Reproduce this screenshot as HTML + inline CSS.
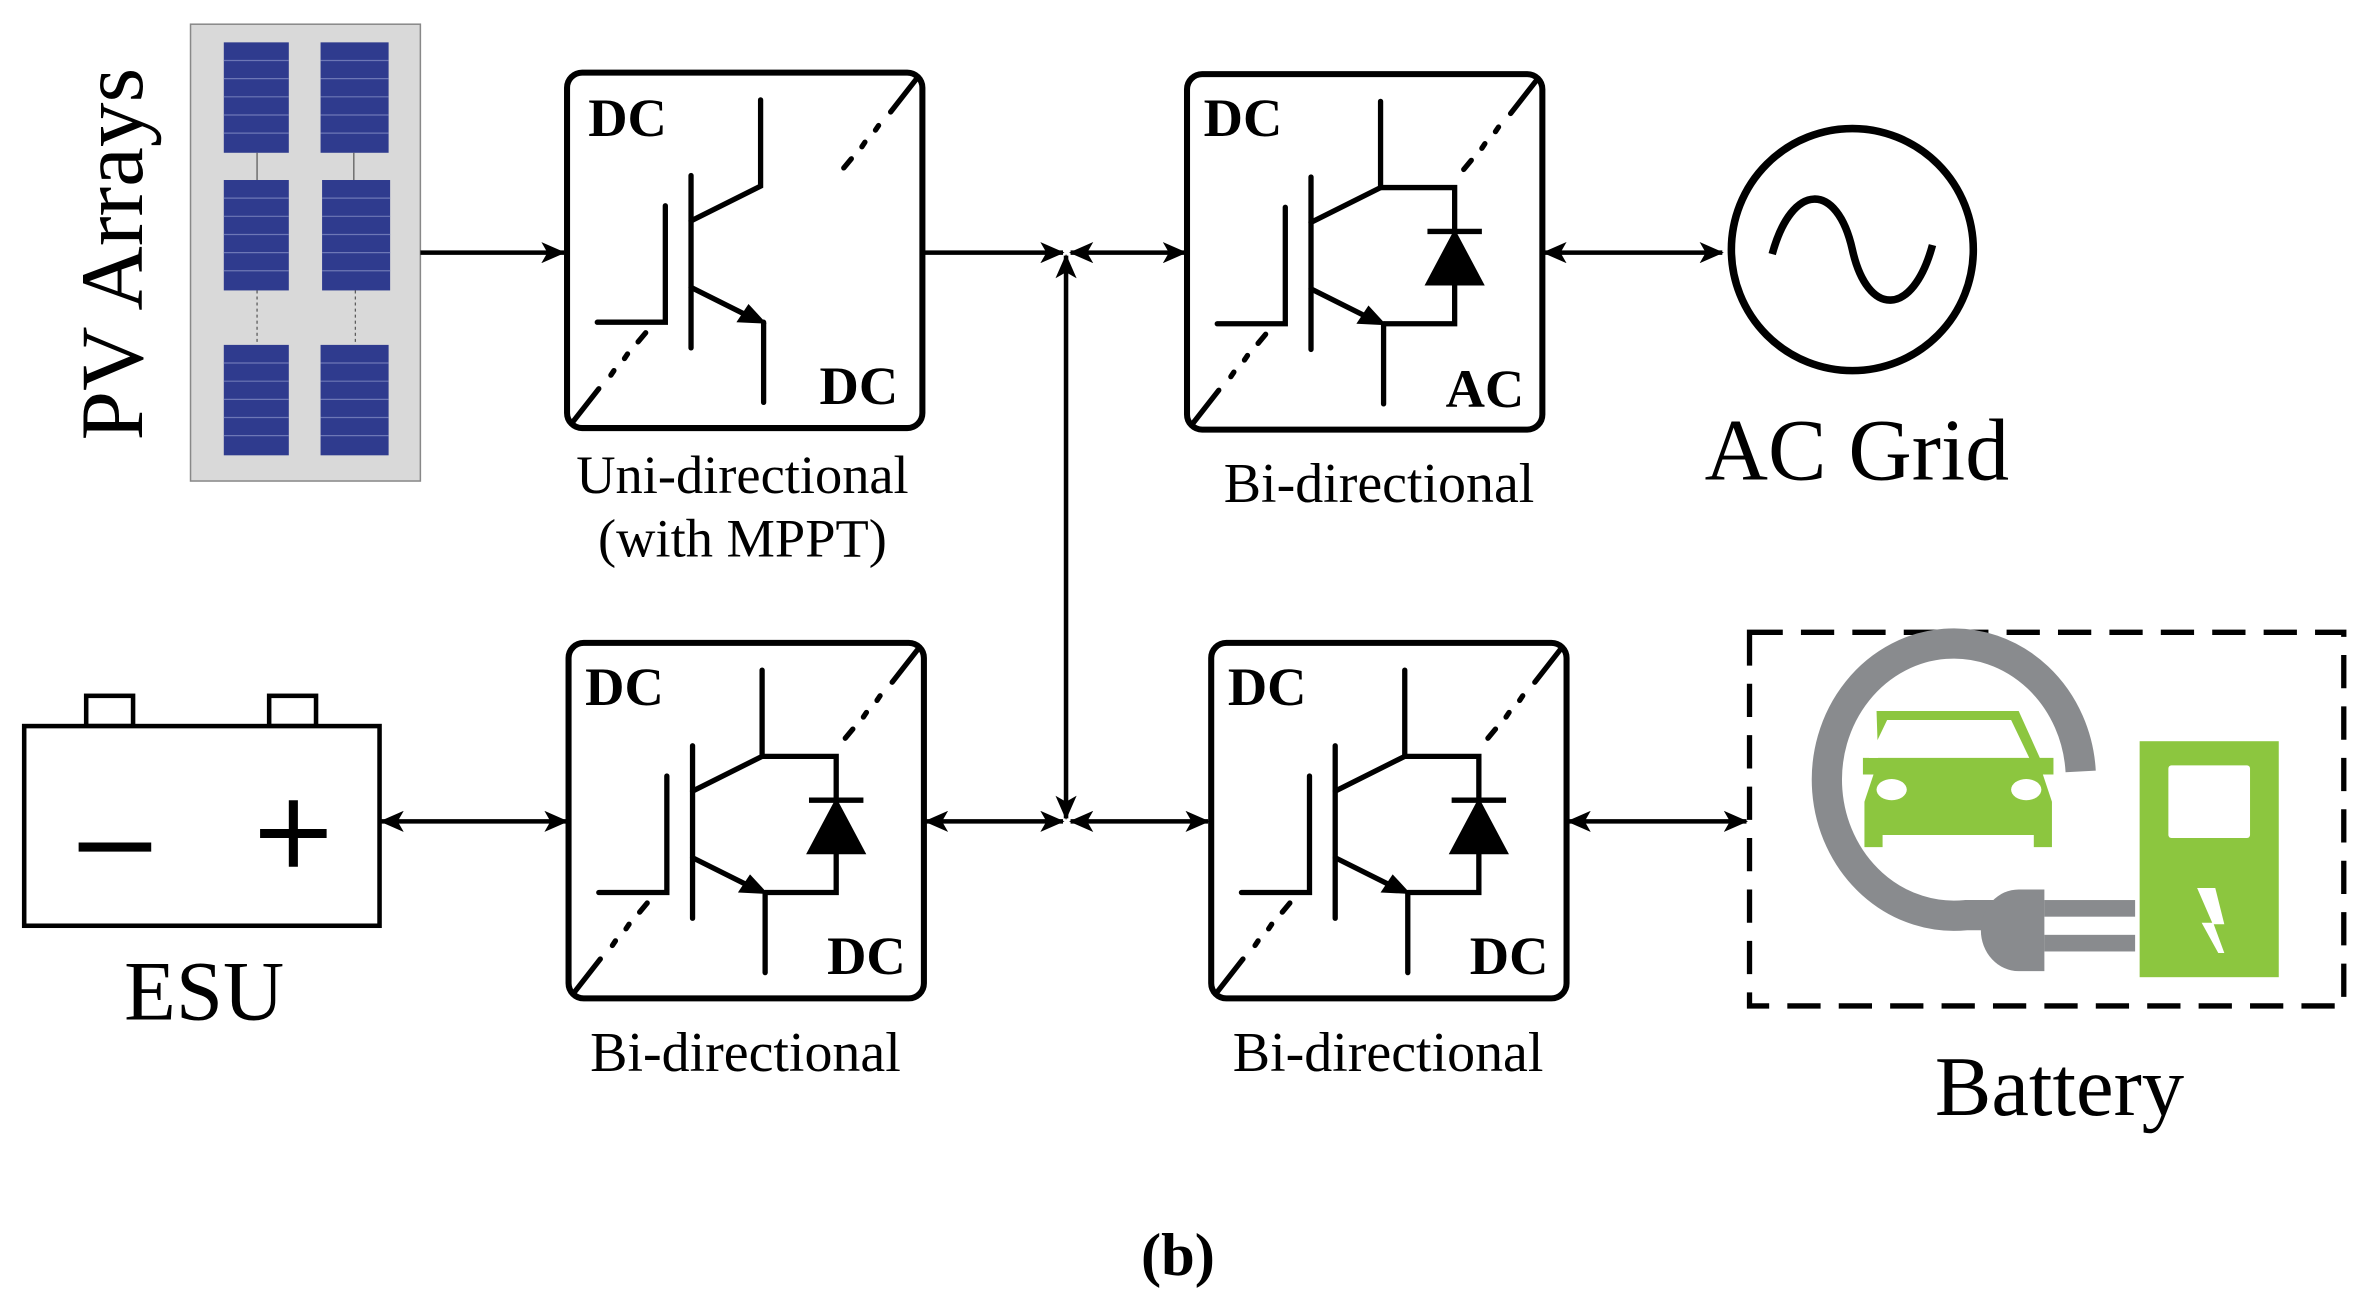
<!DOCTYPE html>
<html><head><meta charset="utf-8"><style>
html,body{margin:0;padding:0;background:#fff}
svg{display:block}
text{font-family:"Liberation Serif",serif}
</style></head><body>
<svg width="2371" height="1313" viewBox="0 0 1568 868" preserveAspectRatio="none" xmlns="http://www.w3.org/2000/svg">
<defs>
<marker id="ah2" markerWidth="16" markerHeight="14" refX="15" refY="7" orient="auto-start-reverse" markerUnits="userSpaceOnUse" viewBox="0 0 16 14">
<path d="M0,0 L16,7 L0,14 L4,7 Z" fill="#000"/></marker>
<g id="frame">
<rect x="0" y="0" width="235" height="235" rx="10" fill="#fff" stroke="#000" stroke-width="4"/>
<line x1="3" y1="232" x2="21" y2="209" stroke="#000" stroke-width="3.5" stroke-linecap="round"/>
<line x1="29" y1="200" x2="31" y2="197" stroke="#000" stroke-width="3.5" stroke-linecap="round"/>
<line x1="38" y1="189" x2="40" y2="186" stroke="#000" stroke-width="3.5" stroke-linecap="round"/>
<line x1="47" y1="178" x2="52" y2="172" stroke="#000" stroke-width="3.5" stroke-linecap="round"/>
<line x1="232" y1="3" x2="214" y2="26" stroke="#000" stroke-width="3.5" stroke-linecap="round"/>
<line x1="206" y1="35" x2="204" y2="38" stroke="#000" stroke-width="3.5" stroke-linecap="round"/>
<line x1="197" y1="46" x2="195" y2="49" stroke="#000" stroke-width="3.5" stroke-linecap="round"/>
<line x1="188" y1="57" x2="183" y2="63" stroke="#000" stroke-width="3.5" stroke-linecap="round"/>
<g stroke="#000" stroke-width="3.5" fill="none" stroke-linecap="round">
<polyline points="20,165 65,165 65,88"/>
<line x1="82" y1="68" x2="82" y2="182"/>
<polyline points="82,98 128,75 128,18"/>
<line x1="82" y1="142" x2="120" y2="161"/>
<line x1="130" y1="165" x2="130" y2="218"/>
</g>
<path d="M132,166 L112,165 L120,153 Z" fill="#000"/>
</g>
<g id="diode" stroke="#000" stroke-width="3.5" fill="none">
<polyline points="128,75 177,75 177,105"/>
<polyline points="177,138 177,165 130,165"/>
<line x1="159" y1="104" x2="195" y2="104"/>
<path d="M177,106 L194,138 L160,138 Z" fill="#000"/>
</g>
</defs>

<!-- PV Arrays -->
<text transform="translate(94,168) rotate(-90)" font-size="59" text-anchor="middle">PV Arrays</text>
<rect x="126" y="16" width="152" height="302" fill="#d9d9d9" stroke="#888" stroke-width="1"/>
<g fill="#2f3b8e">
<rect x="148" y="28" width="43" height="73"/><rect x="212" y="28" width="45" height="73"/>
<rect x="148" y="119" width="43" height="73"/><rect x="213" y="119" width="45" height="73"/>
<rect x="148" y="228" width="43" height="73"/><rect x="212" y="228" width="45" height="73"/>
</g>
<g stroke="#7d86c0" stroke-width="0.8" opacity="0.8">
<path d="M148,40H191M148,52H191M148,64H191M148,76H191M148,88H191M212,40H257M212,52H257M212,64H257M212,76H257M212,88H257"/>
<path d="M148,131H191M148,143H191M148,155H191M148,167H191M148,179H191M213,131H258M213,143H258M213,155H258M213,167H258M213,179H258"/>
<path d="M148,240H191M148,252H191M148,264H191M148,276H191M148,288H191M212,240H257M212,252H257M212,264H257M212,276H257M212,288H257"/>
</g>
<g stroke="#555" stroke-width="0.8">
<line x1="170" y1="101" x2="170" y2="119"/><line x1="234" y1="101" x2="234" y2="119"/>
<line x1="170" y1="192" x2="170" y2="228" stroke-dasharray="2 2"/><line x1="235" y1="192" x2="235" y2="228" stroke-dasharray="2 2"/>
</g>

<!-- connectors -->
<g stroke="#000" stroke-width="3" fill="none">
<line x1="278" y1="167" x2="373" y2="167" marker-end="url(#ah2)"/>
<line x1="609" y1="167" x2="703" y2="167" marker-end="url(#ah2)"/>
<line x1="708" y1="167" x2="784" y2="167" marker-start="url(#ah2)" marker-end="url(#ah2)"/>
<line x1="705" y1="169" x2="705" y2="541" marker-start="url(#ah2)" marker-end="url(#ah2)"/>
<line x1="1021" y1="167" x2="1139" y2="167" marker-start="url(#ah2)" marker-end="url(#ah2)"/>
<line x1="252" y1="543" x2="375" y2="543" marker-start="url(#ah2)" marker-end="url(#ah2)"/>
<line x1="612" y1="543" x2="703" y2="543" marker-start="url(#ah2)" marker-end="url(#ah2)"/>
<line x1="708" y1="543" x2="799" y2="543" marker-start="url(#ah2)" marker-end="url(#ah2)"/>
<line x1="1037" y1="543" x2="1155" y2="543" marker-start="url(#ah2)" marker-end="url(#ah2)"/>
</g>

<!-- converters -->
<g transform="translate(375,48)"><use href="#frame"/>
<text x="14" y="42" font-size="36" font-weight="bold">DC</text>
<text x="167" y="219" font-size="36" font-weight="bold">DC</text></g>
<text x="491" y="326" font-size="36" text-anchor="middle">Uni-directional</text>
<text x="491" y="368" font-size="36" text-anchor="middle">(with MPPT)</text>

<g transform="translate(785,49)"><use href="#frame"/><use href="#diode"/>
<text x="11" y="41" font-size="36" font-weight="bold">DC</text>
<text x="171" y="220" font-size="36" font-weight="bold">AC</text></g>
<text x="912" y="332" font-size="37" text-anchor="middle">Bi-directional</text>

<g transform="translate(376,425)"><use href="#frame"/><use href="#diode"/>
<text x="11" y="41" font-size="36" font-weight="bold">DC</text>
<text x="171" y="219" font-size="36" font-weight="bold">DC</text></g>
<text x="493" y="708" font-size="37" text-anchor="middle">Bi-directional</text>

<g transform="translate(801,425)"><use href="#frame"/><use href="#diode"/>
<text x="11" y="41" font-size="36" font-weight="bold">DC</text>
<text x="171" y="219" font-size="36" font-weight="bold">DC</text></g>
<text x="918" y="708" font-size="37" text-anchor="middle">Bi-directional</text>

<!-- AC grid -->
<circle cx="1225" cy="165" r="80" fill="none" stroke="#000" stroke-width="5"/>
<path d="M1172,168 C1185,120 1215,120 1225,165 C1235,210 1265,210 1278,162" fill="none" stroke="#000" stroke-width="5"/>
<text x="1228" y="317" font-size="58" text-anchor="middle">AC Grid</text>

<!-- ESU -->
<g stroke="#000" stroke-width="3" fill="#fff">
<rect x="57" y="460" width="31" height="20"/><rect x="178" y="460" width="31" height="20"/>
<rect x="16" y="480" width="235" height="132"/>
</g>
<g stroke="#000" stroke-width="6"><line x1="52" y1="560" x2="100" y2="560"/><line x1="172" y1="551" x2="216" y2="551"/><line x1="194" y1="529" x2="194" y2="573"/></g>
<text x="135" y="674" font-size="56" text-anchor="middle">ESU</text>

<!-- Battery / EV -->
<rect x="1157" y="418" width="393" height="247" fill="none" stroke="#000" stroke-width="3.5" stroke-dasharray="22 12"/>
<path d="M1376,510 A84,90 0 1 0 1300,605 L1330,605" fill="none" stroke="#898b8e" stroke-width="20"/>
<path d="M1352,588 L1335,588 A25,27 0 0 0 1335,642 L1352,642 Z" fill="#898b8e"/>
<rect x="1352" y="595" width="60" height="11" fill="#898b8e"/><rect x="1352" y="618" width="60" height="11" fill="#898b8e"/>
<g fill="#8cc63f">
<path d="M1241,470 L1335,470 L1349,501 L1358,501 L1358,512 L1351,512 L1357,530 L1357,560 L1345,560 L1345,552 L1245,552 L1245,560 L1233,560 L1233,530 L1239,512 L1232,512 L1232,501 L1242,501 Z"/>
<rect x="1415" y="490" width="92" height="156"/>
</g>
<path d="M1248,476 L1330,476 L1342,501 L1236,501 Z" fill="#fff"/>
<ellipse cx="1251" cy="522" rx="10" ry="7" fill="#fff"/><ellipse cx="1340" cy="522" rx="10" ry="7" fill="#fff"/>
<rect x="1434" y="506" width="54" height="48" rx="2" fill="#fff"/>
<path d="M1453,587 L1465,587 L1471,611 L1464,611 L1471,630 L1467,630 L1456,610 L1463,610 Z" fill="#fff"/>
<text x="1362" y="737" font-size="56" text-anchor="middle">Battery</text>

<text x="779" y="843" font-size="40" font-weight="bold" text-anchor="middle">(b)</text>
</svg>
</body></html>
